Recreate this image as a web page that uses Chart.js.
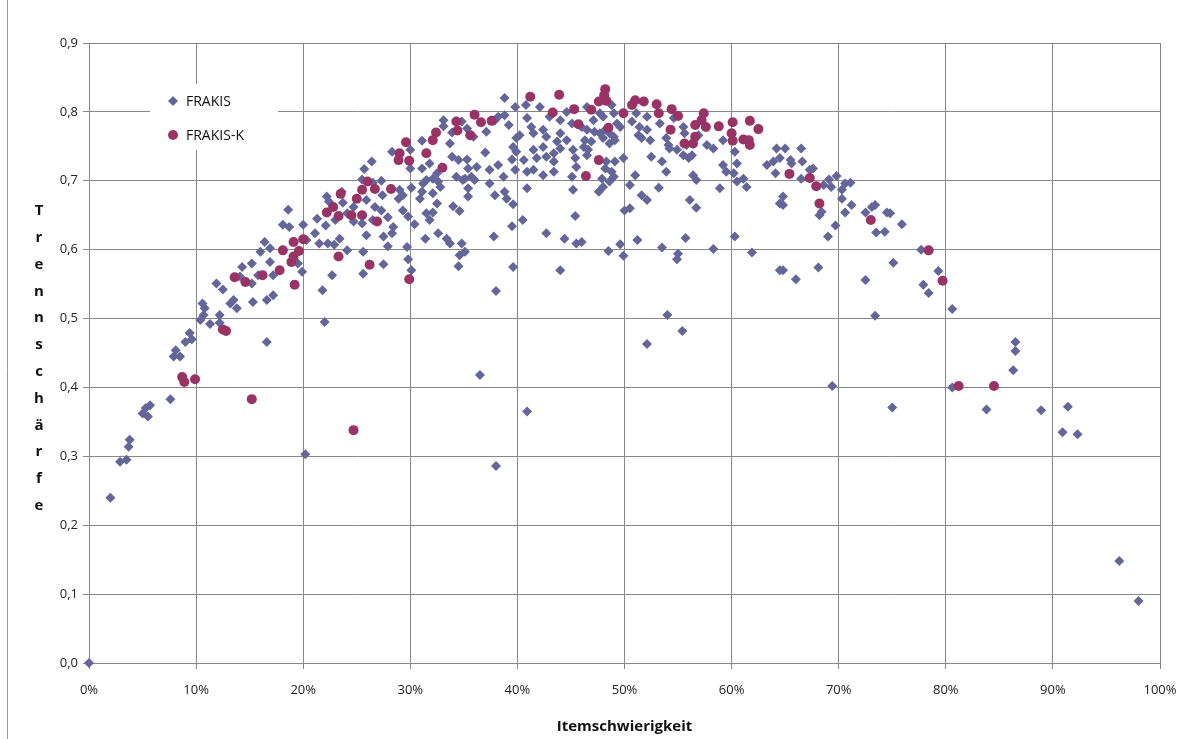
<!DOCTYPE html>
<html>
<head>
<meta charset="utf-8">
<script src="https://cdn.jsdelivr.net/npm/chart.js@4/dist/chart.umd.min.js"></script>
<style>
  body { margin: 0; background: #fff; }
  #wrap { width: 1193px; height: 739px; }
</style>
</head>
<body>
<div id="wrap"><canvas id="scatterChart" width="1193" height="739"></canvas></div>
<script>
// Itemschwierigkeit (0..1) / Trennschärfe pairs
const frakis = [
  [0, 0],
  [0.020, 0.240], [0.029, 0.292], [0.035, 0.295], [0.037, 0.314], [0.038, 0.324],
  [0.050, 0.362], [0.053, 0.370], [0.055, 0.358], [0.057, 0.374], [0.076, 0.383],
  [0.079, 0.445], [0.081, 0.454], [0.085, 0.445], [0.090, 0.466], [0.094, 0.479], [0.096, 0.470],
  [0.104, 0.498], [0.106, 0.522], [0.107, 0.505], [0.108, 0.515], [0.113, 0.492],
  [0.119, 0.551], [0.122, 0.505], [0.122, 0.494], [0.125, 0.542], [0.132, 0.522],
  [0.135, 0.527], [0.138, 0.515], [0.141, 0.561], [0.143, 0.575], [0.152, 0.580],
  [0.152, 0.551], [0.153, 0.524], [0.158, 0.563], [0.160, 0.597], [0.164, 0.611],
  [0.166, 0.527], [0.166, 0.466], [0.169, 0.602], [0.169, 0.582], [0.172, 0.563],
  [0.172, 0.534], [0.181, 0.636], [0.186, 0.658], [0.187, 0.633], [0.195, 0.580],
  [0.199, 0.568], [0.200, 0.636], [0.202, 0.303], [0.203, 0.614], [0.211, 0.624],
  [0.213, 0.645], [0.215, 0.609], [0.218, 0.541], [0.220, 0.495], [0.221, 0.635],
  [0.222, 0.677], [0.223, 0.609], [0.224, 0.670], [0.227, 0.563], [0.229, 0.607],
  [0.230, 0.643], [0.234, 0.616], [0.236, 0.684], [0.237, 0.668], [0.241, 0.653],
  [0.241, 0.599], [0.247, 0.662], [0.247, 0.641], [0.255, 0.702], [0.255, 0.638],
  [0.256, 0.597], [0.256, 0.565], [0.257, 0.717], [0.259, 0.672], [0.259, 0.621],
  [0.264, 0.728], [0.265, 0.697], [0.265, 0.643], [0.267, 0.662],
  [0.273, 0.700], [0.273, 0.657], [0.274, 0.679], [0.275, 0.619], [0.275, 0.579],
  [0.279, 0.647], [0.279, 0.605], [0.283, 0.742], [0.283, 0.624], [0.284, 0.633],
  [0.289, 0.674], [0.290, 0.687], [0.293, 0.679], [0.293, 0.657], [0.297, 0.604],
  [0.298, 0.648], [0.298, 0.586], [0.300, 0.745], [0.300, 0.718], [0.301, 0.690],
  [0.301, 0.570], [0.304, 0.637], [0.309, 0.674], [0.311, 0.758], [0.311, 0.718],
  [0.311, 0.684], [0.312, 0.696], [0.314, 0.616], [0.315, 0.701], [0.315, 0.653],
  [0.318, 0.725], [0.318, 0.643], [0.321, 0.703], [0.321, 0.682], [0.321, 0.654],
  [0.325, 0.711], [0.325, 0.667], [0.326, 0.699], [0.326, 0.624], [0.328, 0.691],
  [0.331, 0.788], [0.331, 0.779], [0.334, 0.616], [0.337, 0.754], [0.337, 0.609],
  [0.339, 0.770], [0.339, 0.735], [0.340, 0.663], [0.343, 0.706], [0.345, 0.730],
  [0.345, 0.576], [0.346, 0.656], [0.346, 0.592], [0.348, 0.786], [0.348, 0.609],
  [0.349, 0.701], [0.351, 0.703], [0.351, 0.597], [0.353, 0.776], [0.353, 0.731],
  [0.354, 0.718], [0.354, 0.689], [0.354, 0.677], [0.357, 0.706], [0.359, 0.764],
  [0.360, 0.701], [0.362, 0.720], [0.365, 0.418], [0.370, 0.741], [0.371, 0.771],
  [0.374, 0.716], [0.374, 0.696], [0.378, 0.619], [0.379, 0.788], [0.379, 0.679],
  [0.380, 0.540], [0.380, 0.286], [0.382, 0.793], [0.382, 0.723], [0.387, 0.706],
  [0.388, 0.820], [0.388, 0.795], [0.388, 0.684], [0.390, 0.674], [0.392, 0.781],
  [0.395, 0.731], [0.395, 0.634], [0.396, 0.749], [0.396, 0.666], [0.396, 0.575],
  [0.398, 0.807], [0.398, 0.716], [0.399, 0.762], [0.399, 0.742], [0.402, 0.766],
  [0.405, 0.643], [0.406, 0.730], [0.408, 0.810], [0.409, 0.791], [0.409, 0.713],
  [0.409, 0.689], [0.409, 0.365], [0.413, 0.778], [0.415, 0.769], [0.415, 0.745],
  [0.415, 0.716], [0.418, 0.733], [0.421, 0.807], [0.424, 0.774], [0.424, 0.749],
  [0.424, 0.708], [0.427, 0.764], [0.427, 0.735], [0.427, 0.624], [0.430, 0.793],
  [0.434, 0.740], [0.434, 0.728], [0.434, 0.713], [0.437, 0.757], [0.440, 0.788],
  [0.440, 0.769], [0.440, 0.747], [0.440, 0.570], [0.444, 0.616], [0.446, 0.800],
  [0.446, 0.759], [0.451, 0.783], [0.451, 0.706], [0.452, 0.745], [0.452, 0.687],
  [0.454, 0.733], [0.454, 0.649], [0.455, 0.720], [0.455, 0.609],
  [0.460, 0.778], [0.460, 0.611], [0.462, 0.749], [0.463, 0.759], [0.465, 0.807],
  [0.465, 0.774], [0.465, 0.737], [0.466, 0.745], [0.469, 0.757], [0.471, 0.788],
  [0.472, 0.771], [0.476, 0.684], [0.477, 0.798], [0.477, 0.769], [0.479, 0.703],
  [0.480, 0.793], [0.480, 0.762], [0.480, 0.691], [0.482, 0.774], [0.482, 0.718],
  [0.483, 0.728], [0.485, 0.598], [0.486, 0.769], [0.486, 0.754], [0.486, 0.699],
  [0.488, 0.810], [0.488, 0.713], [0.490, 0.798], [0.490, 0.764], [0.490, 0.706],
  [0.491, 0.759], [0.491, 0.728], [0.493, 0.783], [0.496, 0.778], [0.496, 0.608],
  [0.499, 0.733], [0.499, 0.591], [0.500, 0.657], [0.505, 0.694], [0.505, 0.660],
  [0.507, 0.786], [0.510, 0.708], [0.511, 0.798], [0.512, 0.614], [0.513, 0.766],
  [0.514, 0.778], [0.516, 0.762], [0.516, 0.679], [0.521, 0.793], [0.521, 0.774],
  [0.521, 0.672], [0.521, 0.463], [0.524, 0.759], [0.525, 0.735], [0.532, 0.690],
  [0.533, 0.783], [0.535, 0.728], [0.535, 0.603], [0.539, 0.762], [0.539, 0.713],
  [0.540, 0.505], [0.541, 0.752], [0.542, 0.747], [0.546, 0.791], [0.549, 0.745],
  [0.549, 0.586], [0.550, 0.594], [0.554, 0.482], [0.555, 0.778], [0.555, 0.737],
  [0.556, 0.769], [0.557, 0.617], [0.558, 0.752], [0.560, 0.733], [0.561, 0.672],
  [0.563, 0.737], [0.564, 0.708], [0.567, 0.701], [0.567, 0.661], [0.569, 0.766],
  [0.577, 0.752], [0.583, 0.747], [0.583, 0.601], [0.589, 0.689], [0.592, 0.759],
  [0.592, 0.723], [0.595, 0.713], [0.602, 0.711], [0.603, 0.742], [0.603, 0.619],
  [0.605, 0.725], [0.605, 0.699], [0.611, 0.703], [0.614, 0.691], [0.619, 0.596],
  [0.633, 0.723], [0.639, 0.728], [0.641, 0.711], [0.642, 0.747], [0.645, 0.733],
  [0.645, 0.667], [0.645, 0.570], [0.648, 0.677], [0.648, 0.665], [0.648, 0.570],
  [0.650, 0.747], [0.655, 0.730], [0.656, 0.725], [0.660, 0.557], [0.665, 0.747],
  [0.665, 0.703], [0.666, 0.728], [0.673, 0.716], [0.676, 0.718], [0.681, 0.574],
  [0.682, 0.650], [0.684, 0.655], [0.686, 0.694], [0.690, 0.619], [0.691, 0.702],
  [0.693, 0.691], [0.694, 0.402], [0.697, 0.635], [0.698, 0.707], [0.703, 0.687],
  [0.703, 0.674], [0.706, 0.696], [0.706, 0.654], [0.711, 0.697], [0.712, 0.665],
  [0.725, 0.654], [0.725, 0.556], [0.731, 0.662], [0.734, 0.665], [0.734, 0.504],
  [0.735, 0.625], [0.743, 0.626], [0.745, 0.654], [0.748, 0.653], [0.750, 0.371],
  [0.751, 0.581], [0.759, 0.637], [0.777, 0.600], [0.779, 0.549], [0.784, 0.537],
  [0.793, 0.569], [0.806, 0.514], [0.806, 0.400], [0.838, 0.368], [0.863, 0.425],
  [0.865, 0.466], [0.865, 0.453], [0.889, 0.367], [0.909, 0.335], [0.914, 0.372],
  [0.923, 0.332], [0.962, 0.148], [0.980, 0.090]
];

const frakisK = [
  [0.087, 0.415], [0.089, 0.408], [0.099, 0.412], [0.125, 0.484], [0.128, 0.482],
  [0.136, 0.560], [0.146, 0.553], [0.152, 0.383], [0.162, 0.563], [0.178, 0.570],
  [0.181, 0.599], [0.189, 0.582], [0.191, 0.611], [0.191, 0.590], [0.192, 0.549],
  [0.196, 0.598], [0.200, 0.615], [0.222, 0.654], [0.228, 0.662], [0.233, 0.649],
  [0.233, 0.590], [0.235, 0.681], [0.245, 0.650], [0.247, 0.338], [0.250, 0.674],
  [0.255, 0.687], [0.255, 0.650], [0.260, 0.699], [0.262, 0.578], [0.267, 0.688],
  [0.269, 0.641], [0.282, 0.688], [0.289, 0.730], [0.290, 0.740], [0.296, 0.756],
  [0.299, 0.729], [0.299, 0.557], [0.315, 0.740], [0.321, 0.759], [0.324, 0.770],
  [0.330, 0.719], [0.343, 0.786], [0.344, 0.773], [0.356, 0.766], [0.360, 0.796],
  [0.366, 0.785], [0.376, 0.787], [0.412, 0.822], [0.433, 0.799], [0.439, 0.825],
  [0.453, 0.804], [0.457, 0.782], [0.464, 0.707], [0.469, 0.803], [0.476, 0.815],
  [0.476, 0.730], [0.481, 0.824], [0.482, 0.833], [0.483, 0.816], [0.485, 0.777],
  [0.499, 0.798], [0.507, 0.810], [0.510, 0.817], [0.518, 0.815], [0.530, 0.811],
  [0.532, 0.798], [0.543, 0.774], [0.544, 0.804], [0.550, 0.794], [0.556, 0.754],
  [0.564, 0.754], [0.566, 0.781], [0.566, 0.764], [0.572, 0.788], [0.574, 0.798],
  [0.576, 0.778], [0.588, 0.779], [0.600, 0.769], [0.601, 0.785], [0.601, 0.758],
  [0.611, 0.760], [0.616, 0.759], [0.617, 0.787], [0.617, 0.752], [0.625, 0.775],
  [0.654, 0.710], [0.673, 0.704], [0.679, 0.692], [0.682, 0.667], [0.730, 0.643],
  [0.784, 0.599], [0.797, 0.555], [0.812, 0.402], [0.845, 0.402]
];

const seriesNames = ['FRAKIS', 'FRAKIS-K'];
const xTitle = 'Itemschwierigkeit';
const yTitle = 'Trennschärfe';

const blue = '#646699';
const plum = '#993366';
const gridColor = '#888888';
const fontName = '"Open Sans", "Liberation Sans", sans-serif';

function toPoints(list) {
  return list.map(function (p) { return { x: p[0], y: p[1] }; });
}

// legend box, stacked y title, x title and outer frame
const decor = {
  id: 'decor',
  beforeDatasetsDraw(chart) {
    const ctx = chart.ctx;
    ctx.save();
    ctx.fillStyle = '#fff';
    ctx.fillRect(150, 84, 128, 66);
    // legend entries
    ctx.fillStyle = blue;
    ctx.beginPath();
    ctx.moveTo(173, 96); ctx.lineTo(178, 101); ctx.lineTo(173, 106); ctx.lineTo(168, 101);
    ctx.closePath();
    ctx.fill();
    ctx.fillStyle = plum;
    ctx.beginPath();
    ctx.arc(173, 135, 5, 0, Math.PI * 2);
    ctx.fill();
    ctx.fillStyle = '#111';
    ctx.font = '14px ' + fontName;
    ctx.textBaseline = 'middle';
    ctx.textAlign = 'left';
    ctx.fillText(seriesNames[0], 186, 102);
    ctx.fillText(seriesNames[1], 186, 136);
    ctx.restore();
  },
  afterDraw(chart) {
    const ctx = chart.ctx;
    ctx.save();
    ctx.fillStyle = '#111';
    ctx.textAlign = 'center';
    ctx.textBaseline = 'middle';
    ctx.font = 'bold 15px ' + fontName;
    const letters = Array.from(yTitle);
    letters.forEach(function (ch, i) {
      ctx.fillText(ch, 39, 211 + i * 26.8);
    });
    ctx.fillText(xTitle, (chart.chartArea.left + chart.chartArea.right) / 2, 727);
    ctx.strokeStyle = '#9a9a9a';
    ctx.lineWidth = 1;
    ctx.beginPath();
    ctx.moveTo(7.5, 0);
    ctx.lineTo(7.5, 739);
    ctx.stroke();
    ctx.restore();
  }
};

document.addEventListener('DOMContentLoaded', function () {
  const canvas = document.getElementById('scatterChart');
  const ctx = canvas.getContext('2d');
  const chart = new Chart(ctx, {
    type: 'scatter',
    data: {
      datasets: [{
        label: seriesNames[1],
        data: toPoints(frakisK),
        backgroundColor: plum,
        borderColor: plum,
        pointStyle: 'circle',
        pointRadius: 5,
        borderWidth: 0,
        clip: false,
        order: 0
      }, {
        label: seriesNames[0],
        data: toPoints(frakis),
        backgroundColor: blue,
        borderColor: blue,
        pointStyle: 'rectRot',
        pointRadius: 5,
        borderWidth: 0,
        clip: false,
        order: 1
      }]
    },
    options: {
      responsive: false,
      animation: false,
      layout: { padding: { left: 0, right: 33, top: 43, bottom: 0 } },
      plugins: {
        legend: { display: false },
        tooltip: { enabled: false }
      },
      scales: {
        x: {
          type: 'linear',
          min: 0,
          max: 1,
          afterFit: function (scale) { scale.height = 76; },
          grid: { color: gridColor, tickLength: 6 },
          border: { color: gridColor },
          ticks: {
            stepSize: 0.1,
            padding: 13,
            color: '#222',
            font: { family: fontName, size: 13 },
            callback: function (v) { return Math.round(v * 100) + '%'; }
          }
        },
        y: {
          min: 0,
          max: 0.9,
          afterFit: function (scale) { scale.width = 89; },
          grid: { color: gridColor, tickLength: 6 },
          border: { color: gridColor },
          ticks: {
            stepSize: 0.1,
            padding: 5,
            color: '#222',
            font: { family: fontName, size: 13 },
            callback: function (v) { return v.toFixed(1).replace('.', ','); }
          }
        }
      }
    },
    plugins: [decor]
  });
});
</script>
</body>
</html>
